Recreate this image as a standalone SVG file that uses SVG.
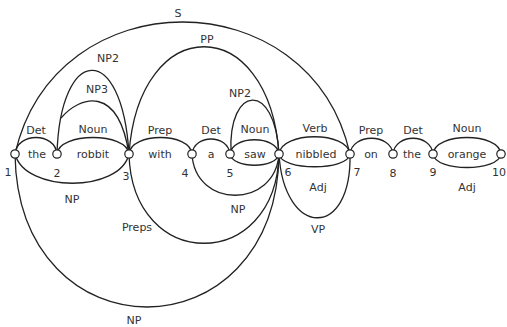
<svg xmlns="http://www.w3.org/2000/svg" width="507" height="327" viewBox="0 0 507 327">
  <style>
    .arc { fill: none; stroke: #222; stroke-width: 1.3; }
    .node circle { fill: #fff; stroke: #222; stroke-width: 1.2; }
    text { font-family: "DejaVu Sans", "Liberation Sans", sans-serif; font-size: 11px; fill: #333; text-anchor: middle; dominant-baseline: central; }
  </style>
  <rect width="507" height="327" fill="#fff"/>

  <g id="connectors">
    <!-- phrase arcs above the chart -->
    <path class="arc" d="M15,154 C55,-22 310,-22 350,154"/>
    <path class="arc" d="M129,154 C139,11 269,11 279,154"/>
    <path class="arc" d="M57,154 C60,45 122,40 129,154"/>
    <path class="arc" d="M61,118 C80,96 118,84 129,154"/>
    <path class="arc" d="M231,152 C228,85 275,80 279,154"/>

    <!-- word arcs -->
    <path class="arc" d="M15,154 C17,132 55,132 57,154"/>
    <path class="arc" d="M57,154 C59,132 127,132 129,154"/>
    <path class="arc" d="M129,154 C131,132 190,132 192,154"/>
    <path class="arc" d="M192,154 C194,134 228,134 230,154"/>
    <path class="arc" d="M230,154 C232,135 277,135 279,154"/>
    <path class="arc" d="M230,154 C232,169 277,169 279,154"/>
    <path class="arc" d="M279,154 C281,131 348,131 350,154"/>
    <path class="arc" d="M279,154 C281,171 348,171 350,154"/>
    <path class="arc" d="M350,154 C352,133 391,133 393,154"/>
    <path class="arc" d="M393,154 C395,133 431,133 433,154"/>
    <path class="arc" d="M433,154 C435,132 499,132 501,154"/>
    <path class="arc" d="M433,154 C435,172 499,172 501,154"/>

    <!-- phrase arcs below the chart -->
    <path class="arc" d="M15,154 C25,193 120,193 129,154"/>
    <path class="arc" d="M192,154 C195,209 275,209 279,154"/>
    <path class="arc" d="M129,154 C132,273 276,273 279,154"/>
    <path class="arc" d="M15,154 C18,358 276,358 279,154"/>
    <path class="arc" d="M279,154 C284,238 352,240 350,154"/>

    <!-- arc labels -->
    <text x="178" y="13">S</text>
    <text x="207" y="39">PP</text>
    <text x="108" y="58">NP2</text>
    <text x="97" y="89">NP3</text>
    <text x="240" y="93">NP2</text>

    <text x="36" y="130">Det</text>
    <text x="93" y="129">Noun</text>
    <text x="160" y="130">Prep</text>
    <text x="211" y="130">Det</text>
    <text x="255" y="129">Noun</text>
    <text x="315" y="128">Verb</text>
    <text x="371" y="130">Prep</text>
    <text x="413" y="130">Det</text>
    <text x="467" y="128">Noun</text>

    <text x="37" y="154">the</text>
    <text x="93" y="154">robbit</text>
    <text x="160" y="154">with</text>
    <text x="211" y="154">a</text>
    <text x="255" y="154">saw</text>
    <text x="316" y="154">nibbled</text>
    <text x="371" y="154">on</text>
    <text x="412" y="154">the</text>
    <text x="467" y="154">orange</text>

    <text x="72" y="199">NP</text>
    <text x="137" y="227">Preps</text>
    <text x="238" y="209">NP</text>
    <text x="134" y="320">NP</text>
    <text x="318" y="187">Adj</text>
    <text x="318" y="229">VP</text>
    <text x="467" y="187">Adj</text>
  </g>

  <g id="n1" class="node"><circle cx="15" cy="154" r="4.2"/><text x="8" y="172">1</text></g>
  <g id="n2" class="node"><circle cx="57" cy="154" r="4.2"/><text x="57" y="173">2</text></g>
  <g id="n3" class="node"><circle cx="129" cy="154" r="4.2"/><text x="126" y="176">3</text></g>
  <g id="n4" class="node"><circle cx="192" cy="154" r="4.2"/><text x="185" y="173">4</text></g>
  <g id="n5" class="node"><circle cx="230" cy="154" r="4.2"/><text x="230" y="173">5</text></g>
  <g id="n6" class="node"><circle cx="279" cy="154" r="4.2"/><text x="288" y="172">6</text></g>
  <g id="n7" class="node"><circle cx="350" cy="154" r="4.2"/><text x="357" y="172">7</text></g>
  <g id="n8" class="node"><circle cx="393" cy="154" r="4.2"/><text x="393" y="173">8</text></g>
  <g id="n9" class="node"><circle cx="433" cy="154" r="4.2"/><text x="433" y="172">9</text></g>
  <g id="n10" class="node"><circle cx="501" cy="154" r="4.2"/><text x="499" y="172">10</text></g>
</svg>
